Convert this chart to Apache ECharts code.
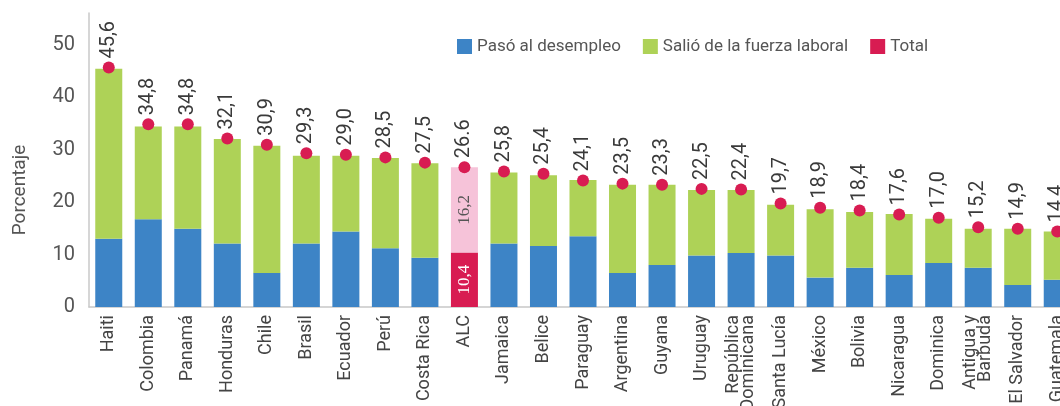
<!DOCTYPE html>
<html>
<head>
<meta charset="utf-8">
<script src="https://cdn.jsdelivr.net/npm/echarts@6/dist/echarts.min.js"></script>
<style>
html, body { margin: 0; padding: 0; background: #fff; }
#chart { width: 1060px; height: 406px; }
</style>
</head>
<body>
<div id="chart"></div>
<script>
//---- datos ----
var paises = ['Haiti', 'Colombia', 'Panamá', 'Honduras', 'Chile', 'Brasil', 'Ecuador', 'Perú', 'Costa Rica', 'ALC',
    'Jamaica', 'Belice', 'Paraguay', 'Argentina', 'Guyana', 'Uruguay', 'República\nDominicana', 'Santa Lucía',
    'México', 'Bolivia', 'Nicaragua', 'Dominica', 'Antigua y\nBarbuda', 'El Salvador', 'Guatemala'];
var desempleo = [13.0, 16.7, 14.9, 12.1, 6.5, 12.1, 14.4, 11.2, 9.4, 10.4,
    12.1, 11.6, 13.5, 6.5, 8.0, 9.8, 10.3, 9.8, 5.6, 7.5, 6.1, 8.4, 7.5, 4.2, 5.2];
var fueraLaboral = [32.4, 17.7, 19.5, 19.9, 24.2, 16.7, 14.4, 17.2, 18.0, 16.2,
    13.5, 13.5, 10.7, 16.8, 15.3, 12.5, 12.0, 9.7, 13.0, 10.6, 11.6, 8.4, 7.4, 10.7, 9.2];
var totales = [45.6, 34.8, 34.8, 32.1, 30.9, 29.3, 29.0, 28.5, 27.5, 26.6,
    25.8, 25.4, 24.1, 23.5, 23.3, 22.5, 22.4, 19.7, 18.9, 18.4, 17.6, 17.0, 15.2, 14.9, 14.4];
var etiquetasTotal = ['45,6', '34,8', '34,8', '32,1', '30,9', '29,3', '29,0', '28,5', '27,5', '26.6',
    '25,8', '25,4', '24,1', '23,5', '23,3', '22,5', '22,4', '19,7', '18,9', '18,4', '17,6', '17,0', '15,2', '14,9', '14,4'];
var yMin = 0, yMax = 56, yIntervalo = 10;

var azul = '#3d84c6';
var verde = '#aed257';
var rojo = '#d81c52';
var rosa = '#f6c3d9';
var fuente = 'Roboto, "Noto Sans", sans-serif';

function coma(v) { return String(v.toFixed(1)).replace('.', ','); }

var dom = document.getElementById('chart');
var myChart = echarts.init(dom);

var datosAzul = desempleo.map(function (v, i) {
    if (paises[i] !== 'ALC') return v;
    return {
        value: v,
        itemStyle: { color: rojo },
        label: {
            show: true, position: 'inside', rotate: 90,
            fontFamily: '"Liberation Serif", serif', fontSize: 17, color: '#fff',
            formatter: coma(v)
        }
    };
});
var datosVerde = fueraLaboral.map(function (v, i) {
    if (paises[i] !== 'ALC') return v;
    return {
        value: v,
        itemStyle: { color: rosa },
        label: {
            show: true, position: 'inside', rotate: 90,
            fontFamily: '"Liberation Serif", serif', fontSize: 17, color: '#555',
            formatter: coma(v)
        }
    };
});

var option = {
    animation: false,
    backgroundColor: '#fff',
    textStyle: { fontFamily: fuente },
    grid: { left: 89, right: -17, top: 13, bottom: 99, outerBoundsMode: 'none', containLabel: false },
    legend: {
        left: 452,
        top: 33,
        icon: 'rect',
        itemWidth: 15,
        itemHeight: 15,
        itemGap: 22,
        textStyle: { fontSize: 17, color: '#555', fontFamily: fuente },
        data: ['Pasó al desempleo', 'Salió de la fuerza laboral', 'Total']
    },
    graphic: [{
        type: 'text',
        x: 20,
        y: 190,
        rotation: Math.PI / 2,
        style: {
            text: 'Porcentaje',
            fontSize: 19,
            fontFamily: fuente,
            fill: '#555',
            align: 'center',
            verticalAlign: 'middle'
        }
    }],
    xAxis: {
        type: 'category',
        data: paises,
        axisLine: { lineStyle: { color: '#c8c8c8', width: 1.5 } },
        axisTick: { show: false },
        axisLabel: {
            interval: 0,
            rotate: 90,
            margin: 8,
            fontSize: 18,
            lineHeight: 15,
            color: '#444',
            fontFamily: fuente
        }
    },
    yAxis: {
        type: 'value',
        min: yMin,
        max: yMax,
        interval: yIntervalo,
        axisLine: { show: true, lineStyle: { color: '#c8c8c8', width: 1.5 } },
        axisTick: { show: false },
        splitLine: { show: false },
        axisLabel: {
            showMaxLabel: false,
            fontSize: 20,
            color: '#555',
            margin: 14,
            fontFamily: fuente
        }
    },
    series: [{
        name: 'Pasó al desempleo',
        type: 'bar',
        stack: 'total',
        barWidth: 27,
        itemStyle: { color: azul },
        data: datosAzul
    }, {
        name: 'Salió de la fuerza laboral',
        type: 'bar',
        stack: 'total',
        barWidth: 27,
        itemStyle: { color: verde },
        data: datosVerde
    }, {
        name: 'Total',
        type: 'scatter',
        symbol: 'circle',
        symbolSize: 12,
        z: 5,
        itemStyle: { color: rojo, opacity: 1 },
        label: {
            show: true,
            position: 'top',
            distance: 3,
            rotate: 90,
            align: 'left',
            verticalAlign: 'middle',
            fontSize: 20,
            color: '#3a3a3a',
            fontFamily: fuente,
            formatter: function (p) { return etiquetasTotal[p.dataIndex]; }
        },
        data: totales
    }]
};

if (option && typeof option === 'object') {
    myChart.setOption(option);
}
</script>
</body>
</html>
